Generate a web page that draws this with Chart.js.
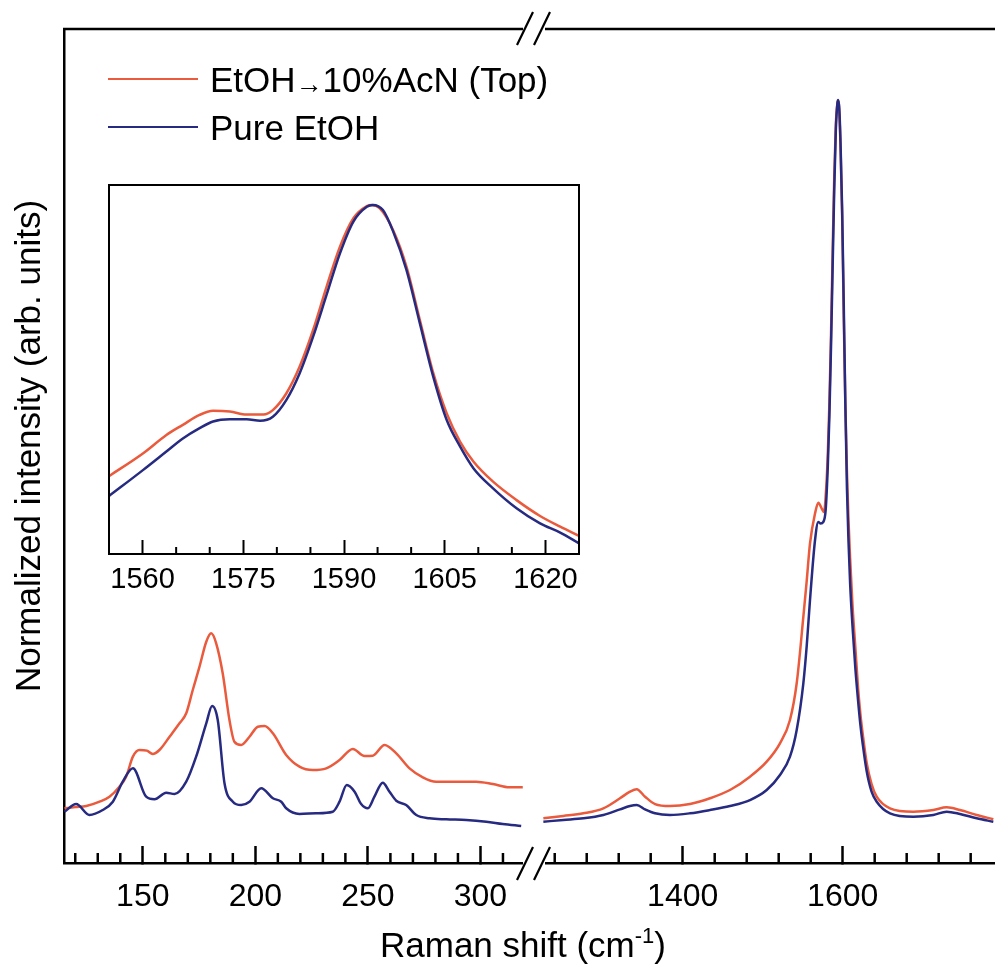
<!DOCTYPE html>
<html>
<head>
<meta charset="utf-8">
<script src="https://cdn.jsdelivr.net/npm/chart.js@4.4.1/dist/chart.umd.min.js"></script>
<style>
  body { margin: 0; background: #fff; }
  #wrap { position: relative; width: 995px; height: 971px; font-family: "Liberation Sans", Arial, sans-serif; color: #000; }
  #mainChart { position: absolute; left: 0; top: 0; }
  #insetChart { position: absolute; left: 90px; top: 175px; }
  .legend-item { position: absolute; left: 108px; height: 35px; font-size: 35px; line-height: 35px; white-space: nowrap; }
  .legend-line { display: inline-block; width: 90px; height: 2.5px; vertical-align: middle; margin-right: 12px; position: relative; top: -4px; }
  .arw { font-size: 27px; position: relative; top: 1px; }
  #xTitle { position: absolute; left: 323px; top: 927px; width: 400px; text-align: center; font-size: 35px; line-height: 35px; white-space: nowrap; }
  #xTitle sup { font-size: 22px; vertical-align: 14px; line-height: 0; }
</style>
</head>
<body>
<div id="wrap">
  <canvas id="mainChart" width="995" height="971"></canvas>
  <canvas id="insetChart" width="510" height="430"></canvas>
  <div id="legend"></div>
  <div id="xTitle">Raman shift (cm<sup>-1</sup>)</div>
</div>
<script>
const FONT = "'Liberation Sans', Arial, sans-serif";
const RED = "#ea5a3c";
const BLUE = "#262a80";

const seriesNames = ["EtOH\u219210%AcN (Top)", "Pure EtOH"];
const seriesColors = [RED, BLUE];
const yTitle = "Normalized intensity (arb. units)";

// low-frequency window (cm-1)
const redLowX = [115.2, 120, 124.9, 130.8, 135.2, 139.6, 142.6, 145.6, 148.5, 151.8, 154.4, 157.4, 161.9, 166.3, 169.3, 172.2, 175.2, 178.2, 180.4, 182.6, 185.5, 188.5, 190.7, 193.7, 197.4, 201.1, 204.1, 207.8, 213.7, 219.6, 225.5, 231.5, 237.4, 243.3, 248.5, 252.2, 257.4, 262.6, 268.5, 274.4, 280.3, 290.7, 298.1, 305.5, 312.9, 318.8];
const redLowY = [6.56, 6.7, 6.83, 7.35, 7.95, 9.15, 10.35, 12.75, 13.55, 13.47, 13.07, 13.55, 15.14, 16.75, 17.95, 20.74, 23.54, 26.53, 27.54, 26.34, 22.75, 17.15, 14.54, 14.15, 15.14, 16.34, 16.43, 15.55, 12.95, 11.55, 11.15, 11.35, 12.35, 13.67, 12.83, 12.87, 14.15, 13.15, 11.35, 10.28, 9.75, 9.75, 9.75, 9.47, 9.08, 9.08];
const blueLowX = [115.2, 120.4, 126.3, 132.2, 136.7, 141.1, 145.6, 151.5, 155.2, 160.4, 164.1, 169.3, 173.7, 178.2, 180.8, 183.3, 186.3, 190, 193.7, 197.4, 202.6, 207.8, 211.5, 213.7, 219.6, 227, 234.4, 237.4, 240.6, 244.1, 247, 250, 252.9, 256.6, 259.6, 262.6, 267, 271.5, 277.4, 284.8, 293.7, 302.6, 309.9, 318.1];
const blueLowY = [6.15, 7.07, 5.76, 6.35, 7.35, 9.75, 11.35, 7.95, 7.64, 8.43, 8.27, 9.75, 12.75, 16.75, 18.82, 17.15, 9.56, 7.35, 6.95, 7.35, 8.96, 7.76, 7.35, 6.56, 5.88, 5.96, 6.15, 7.35, 9.35, 8.55, 7.07, 6.56, 7.95, 9.63, 8.55, 7.47, 6.95, 5.76, 5.36, 5.24, 5.16, 4.95, 4.68, 4.44];

// high-frequency window (cm-1)
const redHighX = [1225.8, 1250.8, 1275.8, 1300.8, 1321.6, 1334.1, 1342.5, 1352.9, 1365.4, 1384.1, 1409.1, 1434.1, 1459.1, 1484.1, 1505, 1521.6, 1534.1, 1542.5, 1550.8, 1555, 1559.1, 1565.4, 1569.5, 1573.8, 1576.6, 1579.4, 1581.4, 1583.4, 1585.4, 1587.4, 1589.4, 1591.4, 1593.4, 1594.4, 1595.3, 1597.3, 1599.3, 1601.3, 1603.3, 1605.3, 1607.3, 1609.3, 1612.2, 1615.7, 1619.2, 1622.2, 1625, 1630, 1636, 1642.5, 1659.1, 1688.3, 1713.3, 1730, 1746.6, 1767.5, 1788.3];
const redHighY = [5.36, 5.64, 5.96, 6.56, 7.76, 8.55, 8.84, 7.95, 7.07, 6.83, 7.07, 7.76, 8.75, 10.35, 12.15, 14.35, 17.15, 21.55, 29.5, 33.8, 38.3, 41.9, 43.2, 42.5, 42.1, 45.0, 49.1, 55.2, 63.4, 73.1, 82.1, 88.5, 91.1, 91.4, 90.8, 85.9, 77.7, 65.6, 55.0, 47.0, 41.0, 36.5, 31.0, 26.0, 21.0, 17.8, 15.5, 12.0, 9.5, 7.95, 6.56, 6.15, 6.35, 6.67, 6.35, 5.76, 5.24];
const blueHighX = [1225.8, 1250.8, 1275.8, 1300.8, 1321.6, 1334.1, 1342.5, 1352.9, 1365.4, 1384.1, 1409.1, 1434.1, 1459.1, 1484.1, 1505, 1521.6, 1534.1, 1542.5, 1550.8, 1555, 1559.1, 1565.4, 1569.5, 1572.4, 1575.8, 1578.7, 1581.4, 1583.4, 1585.4, 1587.4, 1589.4, 1591.4, 1593.4, 1594.4, 1595.8, 1597.3, 1599.3, 1601.3, 1603.3, 1605.3, 1607.3, 1609.3, 1612.2, 1615.7, 1619.2, 1622.2, 1625, 1630, 1636, 1642.5, 1659.1, 1688.3, 1713.3, 1730, 1746.6, 1767.5, 1788.3];
const blueHighY = [4.95, 5.16, 5.36, 5.76, 6.43, 6.83, 6.95, 6.43, 5.96, 5.76, 5.96, 6.35, 6.83, 7.55, 8.75, 10.55, 12.75, 15.95, 21.55, 26.0, 31.5, 38.7, 40.9, 40.7, 40.9, 42.3, 47.6, 53.7, 61.9, 71.3, 80.6, 87.8, 91.1, 91.5, 90.4, 86.3, 78.4, 67.1, 55.2, 45.0, 38.5, 33.5, 28.5, 23.5, 19.5, 16.5, 14.3, 11.0, 8.6, 7.35, 5.96, 5.55, 5.76, 6.15, 5.88, 5.36, 4.95];

const lowTicks = [150, 200, 250, 300];
const lowMinor = [120, 130, 140, 160, 170, 180, 190, 210, 220, 230, 240, 260, 270, 280, 290, 310];
const highTicks = [1400, 1600];
const highMinor = [1240, 1280, 1320, 1360, 1440, 1480, 1520, 1560, 1640, 1680, 1720, 1760];

// inset: zoom on the G band
const insetRedX = [1555, 1560.1, 1563.5, 1566, 1568.5, 1570.5, 1573, 1575.5, 1578, 1579.4, 1581.4, 1583.4, 1585.4, 1587.4, 1589.4, 1591.4, 1593.4, 1594.1, 1595.3, 1597.3, 1599.3, 1601.3, 1603.3, 1605.3, 1607.3, 1609.3, 1612.2, 1615.7, 1619.2, 1622.2, 1625];
const insetRedY = [21.1, 27.3, 32.2, 35, 37.7, 38.8, 38.6, 37.8, 37.8, 39, 43.5, 50.8, 60.7, 72.4, 83.3, 91, 94.3, 94.6, 93.7, 87.8, 77.9, 63.4, 49, 38.1, 30.4, 25, 19.6, 14.6, 10.3, 7.4, 4.9];
const insetBlueX = [1555, 1560.1, 1563.5, 1566, 1568.5, 1570.5, 1573, 1575.5, 1577.5, 1579.4, 1581.4, 1583.4, 1585.4, 1587.4, 1589.4, 1591.4, 1593.4, 1594.3, 1595.8, 1597.3, 1599.3, 1601.3, 1603.3, 1605.3, 1607.3, 1609.3, 1612.2, 1615.7, 1619.2, 1622.2, 1625];
const insetBlueY = [15.7, 22.8, 27.7, 31.3, 34.1, 35.9, 36.5, 36.5, 36.1, 37.2, 41.7, 49, 58.9, 70.2, 81.5, 90.1, 94.1, 94.6, 93.2, 87.5, 77, 62.5, 48, 36.3, 29.1, 23.2, 17.8, 12.4, 8.3, 5.8, 2.9];
const insetTicks = [1560, 1575, 1590, 1605, 1620];
const insetMinor = [1565, 1570, 1580, 1585, 1595, 1600, 1610, 1615];

Chart.defaults.font.family = FONT;
Chart.defaults.color = "#000";

function zip(xs, ys) {
  return xs.map((x, i) => ({ x: x, y: ys[i] }));
}

function lineSet(label, xs, ys, color, axisId, order) {
  return {
    label: label,
    data: zip(xs, ys),
    xAxisID: axisId,
    borderColor: color,
    backgroundColor: color,
    borderWidth: 2.5,
    pointRadius: 0,
    cubicInterpolationMode: "monotone",
    order: order
  };
}

function bottomAxis(min, max, majors, weight, tickSize, tickLen, pad, axisHeight, lw) {
  return {
    type: "linear",
    position: "bottom",
    min: min,
    max: max,
    stack: "shift",
    stackWeight: weight,
    ticks: {
      font: { size: tickSize },
      color: "#000",
      padding: pad,
      maxRotation: 0,
      autoSkip: false,
      callback: v => String(v)
    },
    grid: { display: true, drawOnChartArea: false, drawTicks: true, tickLength: -tickLen, tickWidth: lw, tickColor: "#000" },
    border: { color: "#000", width: lw },
    afterBuildTicks: s => { s.ticks = majors.map(v => ({ value: v })); },
    afterFit: s => {
      s.height = axisHeight;
      s.paddingLeft = 0;
      s.paddingRight = 0;
    }
  };
}

function drawMinor(ctx, scale, values, len) {
  values.forEach(v => {
    const px = scale.getPixelForValue(v);
    ctx.beginPath();
    ctx.moveTo(px, scale.top + 1);
    ctx.lineTo(px, scale.top - len);
    ctx.stroke();
  });
}

function slashes(ctx, cx, cy) {
  ctx.beginPath();
  ctx.moveTo(cx - 15, cy + 16);
  ctx.lineTo(cx + 1, cy - 17);
  ctx.moveTo(cx + 2, cy + 16);
  ctx.lineTo(cx + 18, cy - 17);
  ctx.stroke();
}

const mainDecor = {
  id: "mainDecor",
  afterDraw(chart) {
    const ctx = chart.ctx;
    const area = chart.chartArea;
    const low = chart.scales.xLow;
    const high = chart.scales.xHigh;
    const cut = low.right;
    ctx.save();
    ctx.strokeStyle = "#000";
    ctx.lineWidth = 2.5;
    drawMinor(ctx, low, lowMinor, 10);
    drawMinor(ctx, high, highMinor, 10);

    // gap in the bottom axis
    ctx.fillStyle = "#fff";
    ctx.fillRect(cut - 9, low.top - 3, 22, 7);

    // top frame with gap
    ctx.beginPath();
    ctx.moveTo(area.left - 1, area.top);
    ctx.lineTo(cut - 9, area.top);
    ctx.moveTo(cut + 13, area.top);
    ctx.lineTo(area.right, area.top);
    ctx.stroke();

    ctx.lineWidth = 2.2;
    slashes(ctx, cut, low.top + 1);
    slashes(ctx, cut, area.top);
    ctx.restore();
  }
};

new Chart(document.getElementById("mainChart"), {
  type: "line",
  data: {
    datasets: [
      lineSet(seriesNames[0], redLowX, redLowY, RED, "xLow", 1),
      lineSet(seriesNames[1], blueLowX, blueLowY, BLUE, "xLow", 0),
      lineSet(seriesNames[0], redHighX, redHighY, RED, "xHigh", 1),
      lineSet(seriesNames[1], blueHighX, blueHighY, BLUE, "xHigh", 0)
    ]
  },
  options: {
    responsive: false,
    animation: false,
    layout: { padding: { top: 29, right: 0, bottom: 0, left: 0 } },
    plugins: { legend: { display: false }, tooltip: { enabled: false } },
    scales: {
      xLow: bottomAxis(115, 322.9, lowTicks, 468, 32, 17, 32, 108, 2.5),
      xHigh: bottomAxis(1211.6, 1790.4, highTicks, 463, 32, 17, 32, 108, 2.5),
      y: {
        position: "left",
        min: 0,
        max: 100,
        ticks: { display: false },
        grid: { display: false, drawTicks: false },
        border: { color: "#000", width: 2.5 },
        title: { display: true, text: yTitle, font: { size: 35 }, color: "#000", padding: { top: 9, bottom: 0 } },
        afterFit: s => { s.width = 64; }
      }
    }
  },
  plugins: [mainDecor]
});

const insetDecor = {
  id: "insetDecor",
  afterDraw(chart) {
    const ctx = chart.ctx;
    const a = chart.chartArea;
    ctx.save();
    ctx.strokeStyle = "#000";
    ctx.lineWidth = 2;
    drawMinor(ctx, chart.scales.x, insetMinor, 7);
    ctx.strokeRect(a.left, a.top, a.right - a.left, a.bottom - a.top);
    ctx.restore();
  }
};

const insetX = bottomAxis(1555, 1625, insetTicks, 1, 29, 14, 23, 51, 2);
delete insetX.stack;
delete insetX.stackWeight;

new Chart(document.getElementById("insetChart"), {
  type: "line",
  data: {
    datasets: [
      lineSet(seriesNames[0], insetRedX, insetRedY, RED, "x", 1),
      lineSet(seriesNames[1], insetBlueX, insetBlueY, BLUE, "x", 0)
    ]
  },
  options: {
    responsive: false,
    animation: false,
    layout: { padding: { top: 10, right: 21, bottom: 0, left: 0 } },
    plugins: { legend: { display: false }, tooltip: { enabled: false } },
    scales: {
      x: insetX,
      y: {
        position: "left",
        min: 0,
        max: 100,
        ticks: { display: false },
        grid: { display: false, drawTicks: false },
        border: { color: "#000", width: 2 },
        afterFit: s => { s.width = 19; }
      }
    }
  },
  plugins: [insetDecor]
});

// legend drawn as html over the plot
const legendTops = [62, 110];
document.getElementById("legend").innerHTML = seriesNames.map((name, i) => `
  <div class="legend-item" style="top:${legendTops[i]}px">
    <span class="legend-line" style="background:${seriesColors[i]}"></span>${name.replace("\u2192", '<span class="arw">\u2192</span>')}
  </div>
`).join("");
</script>
</body>
</html>
